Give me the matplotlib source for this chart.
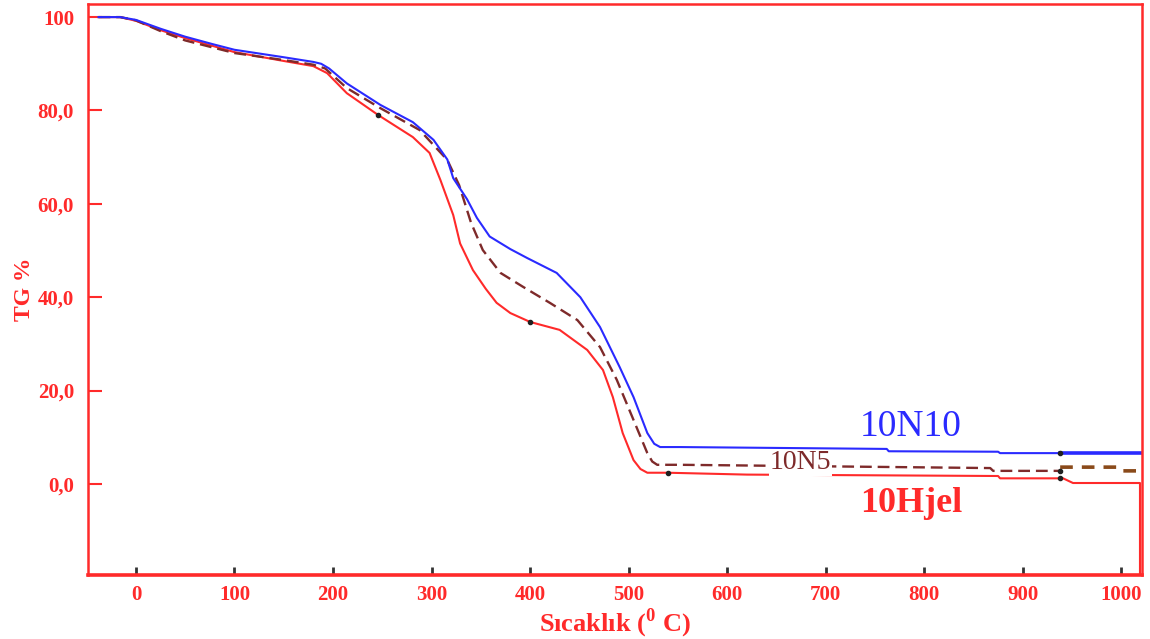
import numpy as np
import matplotlib.pyplot as plt

plt.rcParams['font.family'] = ['Liberation Serif', 'DejaVu Serif']
plt.rcParams['mathtext.fontset'] = 'custom'
plt.rcParams['mathtext.rm'] = 'Liberation Serif'
plt.rcParams['mathtext.bf'] = 'Liberation Serif:bold'

# TG egrileri (sicaklik, % kutle)
T_10N10 = [-38, -16, 0, 25, 50, 78, 100, 150, 180, 188, 196, 214, 248, 281, 302,
           316, 322, 336, 346, 359, 380, 397, 427, 451, 471, 491, 505, 519, 526,
           532, 552, 762, 764, 875, 877, 938]
TG_10N10 = [100, 100, 99.4, 97.5, 95.8, 94.2, 93.0, 91.4, 90.4, 90.0, 89.0, 85.8,
            81.2, 77.5, 73.7, 69.5, 65.5, 61.0, 57.0, 53.0, 50.3, 48.4, 45.2, 40.0,
            33.6, 25.0, 18.6, 10.9, 8.6, 7.9, 7.9, 7.5, 7.0, 6.9, 6.6, 6.6]
T_10N10_son = [938, 1021]
TG_10N10_son = [6.6, 6.6]

T_10N5 = [-38, -16, 0, 25, 50, 100, 150, 180, 192, 214, 248, 288, 316, 328, 340,
          352, 370, 393, 420, 448, 471, 488, 505, 519, 524, 529, 552, 867, 870, 938]
TG_10N5 = [100, 100, 99.3, 97.0, 95.0, 92.3, 90.8, 89.8, 89.0, 84.8, 80.5, 75.8,
           69.4, 64.0, 56.0, 50.1, 45.2, 42.2, 38.8, 35.1, 29.3, 22.3, 13.7, 6.6,
           4.8, 4.1, 4.1, 3.4, 2.8, 2.8]
T_10N5_son = [938, 995, 998, 1021]
TG_10N5_son = [3.6, 3.6, 2.8, 2.8]

T_10Hjel = [-38, -16, 0, 25, 50, 100, 150, 180, 194, 214, 246, 281, 298, 309, 322,
            329, 342, 355, 366, 380, 400, 430, 458, 474, 484, 494, 505, 512, 519,
            540, 620, 875, 877, 941, 951, 1019, 1019]
TG_10Hjel = [100, 100, 99.2, 97.2, 95.5, 92.5, 90.6, 89.5, 88.0, 83.7, 79.0, 74.3,
             70.9, 65.1, 57.6, 51.5, 45.8, 41.8, 38.8, 36.6, 34.7, 33.0, 28.7, 24.4,
             18.6, 10.9, 5.1, 3.2, 2.4, 2.4, 2.0, 1.7, 1.2, 1.2, 0.2, 0.2, -19.5]

# egriler uzerindeki isaret noktalari
T_nokta = [246, 400, 540, 938, 938, 938]
TG_nokta = [79.0, 34.7, 2.4, 6.6, 2.8, 1.2]

x_ticks = [0, 100, 200, 300, 400, 500, 600, 700, 800, 900, 1000]
y_ticks = [0, 20, 40, 60, 80, 100]
y_tick_labels = ['0,0', '20,0', '40,0', '60,0', '80,0', '100']

kirmizi = '#ff2a2a'
mavi = '#2a2aff'
bordo = '#7e2a2a'

fig = plt.figure(figsize=(11.5, 6.39), dpi=100)
ax = fig.add_axes([0.0765, 0.1002, 0.9165, 0.8935])

ax.plot(T_10Hjel, TG_10Hjel, color=kirmizi, lw=1.5)
ax.plot(T_10N5, TG_10N5, color=bordo, lw=1.7, dashes=(5, 2.5))
ax.plot(T_10N5_son, TG_10N5_son, color='#8a4a1a', lw=2.6, dashes=(3.5, 2.5))
ax.plot(T_10N10, TG_10N10, color=mavi, lw=1.5)
ax.plot(T_10N10_son, TG_10N10_son, color=mavi, lw=2.6)
ax.plot(T_nokta, TG_nokta, 'o', color='#202020', ms=3)

ax.text(735, 12.2, '10N10', color=mavi, fontsize=27, ha='left', va='center')
ax.text(643, 4.5, '10N5', color=bordo, fontsize=20, ha='left', va='center',
        bbox=dict(facecolor='white', edgecolor='none', pad=0.5))
ax.text(735, -4.1, '10Hjel', color=kirmizi, fontsize=26, fontweight='bold',
        ha='left', va='center')

ax.set_xlim(-48.7, 1021)
ax.set_ylim(-19.5, 102.8)
ax.set_xticks(x_ticks)
ax.set_yticks(y_ticks)
ax.set_yticklabels(y_tick_labels)

ax.tick_params(axis='x', direction='in', length=6, width=2, color='#333333',
               labelcolor=kirmizi, labelsize=15, pad=7)
ax.tick_params(axis='y', direction='in', length=10, width=1.5, color=kirmizi,
               labelcolor=kirmizi, labelsize=15, pad=10)
for lab in ax.get_xticklabels() + ax.get_yticklabels():
    lab.set_fontweight('bold')

for s in ax.spines.values():
    s.set_color(kirmizi)
    s.set_linewidth(1.8)
ax.spines['bottom'].set_linewidth(2.6)

ax.set_xlabel(r'Sıcaklık ($^{\mathbf{0}}$ C)', color=kirmizi, fontsize=19,
              fontweight='bold', labelpad=1)
ax.set_ylabel('TG %', color=kirmizi, fontsize=17, fontweight='bold', labelpad=2)

fig.savefig('out.png', dpi=100)
